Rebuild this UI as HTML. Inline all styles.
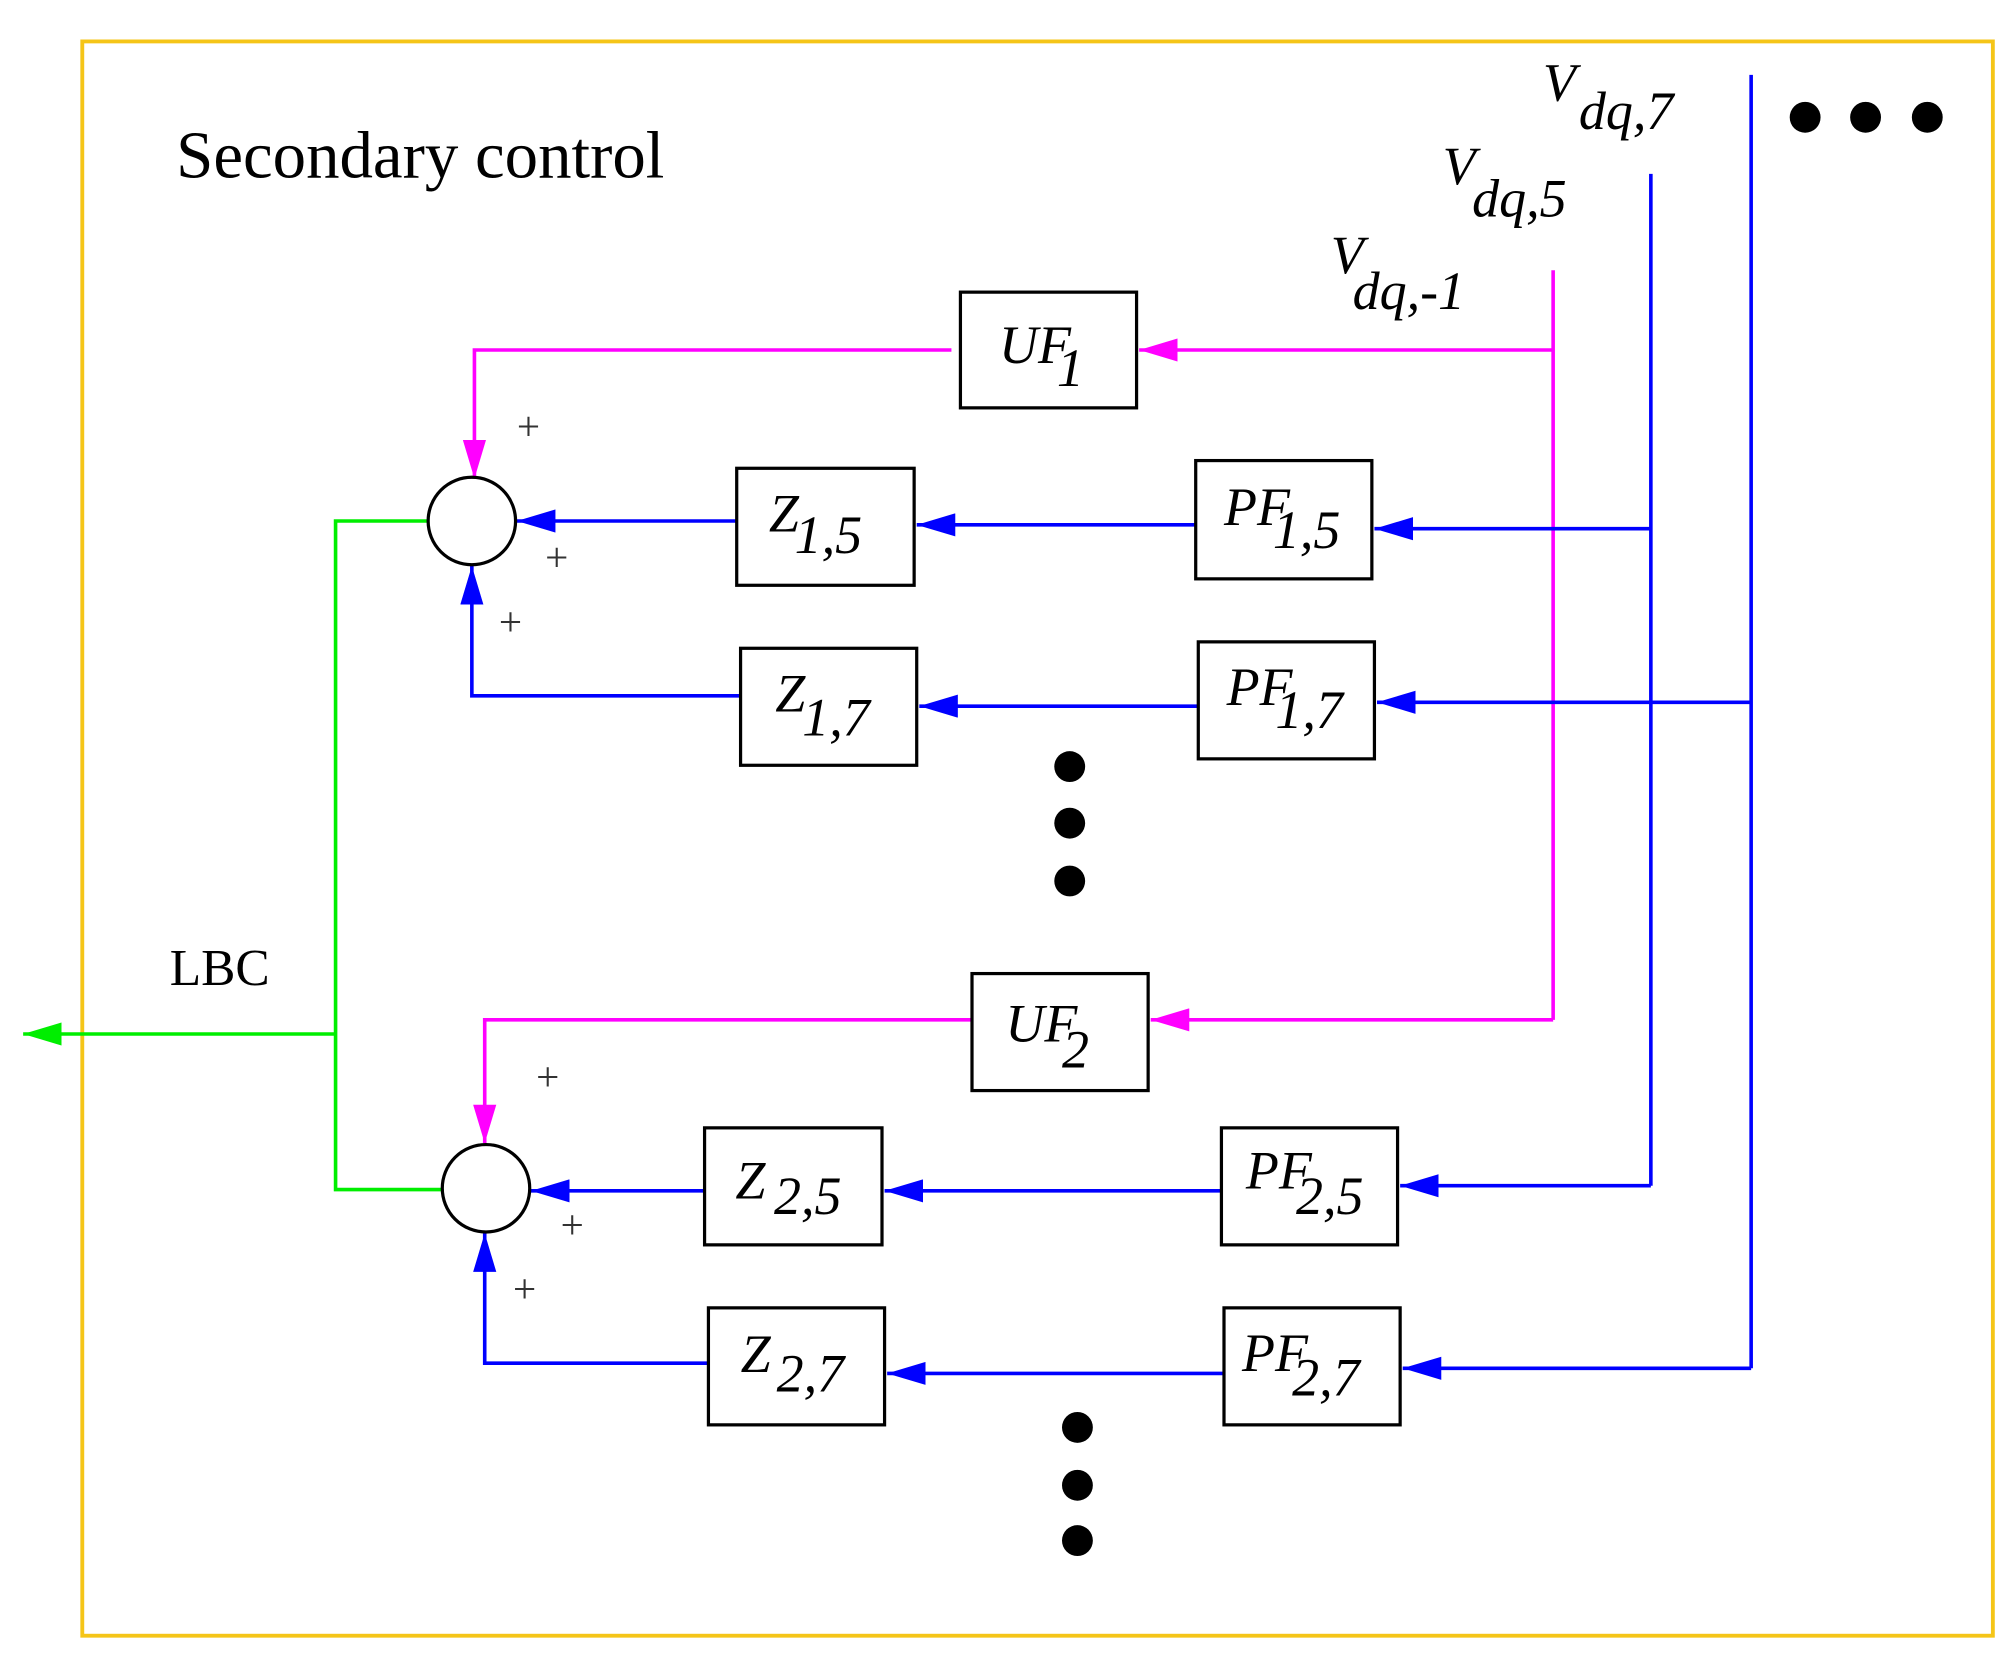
<!DOCTYPE html>
<html><head><style>html,body{margin:0;padding:0;background:#fff}svg{display:block}</style></head>
<body>
<svg width="2016" height="1663" viewBox="0 0 1568 1293" xmlns="http://www.w3.org/2000/svg" font-family="'Liberation Serif', serif">
<defs>
<marker id="ab" markerWidth="32" markerHeight="18" refX="30" refY="9" orient="auto" markerUnits="userSpaceOnUse"><path d="M30,9 L0,0 L0,18 Z" fill="#0000ff"/></marker>
<marker id="am" markerWidth="32" markerHeight="18" refX="30" refY="9" orient="auto" markerUnits="userSpaceOnUse"><path d="M30,9 L0,0 L0,18 Z" fill="#ff00ff"/></marker>
<marker id="ag" markerWidth="32" markerHeight="18" refX="30" refY="9" orient="auto" markerUnits="userSpaceOnUse"><path d="M30,9 L0,0 L0,18 Z" fill="#00ee00"/></marker>
</defs>
<rect x="64" y="32" width="1486" height="1240" fill="none" stroke="#f5c518" stroke-width="3"/>
<text x="137" y="138" font-size="52">Secondary control</text>
<g font-style="italic" font-size="42">
<text x="1200" y="78">V</text><text x="1228" y="100">dq,7</text>
<text x="1122" y="143">V</text><text x="1145" y="168">dq,5</text>
<text x="1035" y="212">V</text><text x="1052" y="240">dq,-1</text>
</g>
<g fill="#000"><circle cx="1404" cy="91" r="12"/><circle cx="1451" cy="91" r="12"/><circle cx="1499" cy="91" r="12"/>
<circle cx="832" cy="596" r="12"/><circle cx="832" cy="640" r="12"/><circle cx="832" cy="685" r="12"/>
<circle cx="838" cy="1110" r="12"/><circle cx="838" cy="1155" r="12"/><circle cx="838" cy="1198" r="12"/></g>
<g fill="none" stroke-width="2.8">
<path d="M1208 210 V793" stroke="#ff00ff"/>
<path d="M1284 135 V922" stroke="#0000ff"/>
<path d="M1362 58 V1064" stroke="#0000ff"/>
<path d="M1208 272 H886" stroke="#ff00ff" marker-end="url(#am)"/>
<path d="M740 272 H369 V372" stroke="#ff00ff" marker-end="url(#am)"/>
<path d="M1284 411 H1069" stroke="#0000ff" marker-end="url(#ab)"/>
<path d="M930 408 H713" stroke="#0000ff" marker-end="url(#ab)"/>
<path d="M573 405 H402" stroke="#0000ff" marker-end="url(#ab)"/>
<path d="M1362 546 H1071" stroke="#0000ff" marker-end="url(#ab)"/>
<path d="M932 549 H715" stroke="#0000ff" marker-end="url(#ab)"/>
<path d="M578 541 H367 V440" stroke="#0000ff" marker-end="url(#ab)"/>
<path d="M1208 793 H895" stroke="#ff00ff" marker-end="url(#am)"/>
<path d="M756 793 H377 V889" stroke="#ff00ff" marker-end="url(#am)"/>
<path d="M1284 922 H1089" stroke="#0000ff" marker-end="url(#ab)"/>
<path d="M950 926 H688" stroke="#0000ff" marker-end="url(#ab)"/>
<path d="M548 926 H413" stroke="#0000ff" marker-end="url(#ab)"/>
<path d="M1362 1064 H1091" stroke="#0000ff" marker-end="url(#ab)"/>
<path d="M952 1068 H690" stroke="#0000ff" marker-end="url(#ab)"/>
<path d="M551 1060 H377 V959" stroke="#0000ff" marker-end="url(#ab)"/>
<path d="M333 405 H261 V925 H344" stroke="#00ee00"/>
<path d="M261 804 H18" stroke="#00ee00" marker-end="url(#ag)"/>
</g>
<g fill="#fff" stroke="#000" stroke-width="2.5">
<circle cx="367" cy="405" r="34"/><circle cx="378" cy="924" r="34"/>
<rect x="747" y="227" width="137" height="90"/>
<rect x="573" y="364" width="138" height="91"/>
<rect x="930" y="358" width="137" height="92"/>
<rect x="576" y="504" width="137" height="91"/>
<rect x="932" y="499" width="137" height="91"/>
<rect x="756" y="757" width="137" height="91"/>
<rect x="548" y="877" width="138" height="91"/>
<rect x="950" y="877" width="137" height="91"/>
<rect x="551" y="1017" width="137" height="91"/>
<rect x="952" y="1017" width="137" height="91"/>
</g>
<g font-size="32" fill="#333">
<text x="402" y="342">+</text><text x="424" y="444">+</text><text x="388" y="494">+</text>
<text x="417" y="848">+</text><text x="436" y="963">+</text><text x="399" y="1013">+</text>
</g>
<text x="132" y="766" font-size="40">LBC</text>
<g font-style="italic" font-size="42">
<text x="777" y="282">UF</text><text x="822" y="300">1</text>
<text x="598" y="413">Z</text><text x="618" y="430">1,5</text>
<text x="952" y="408">PF</text><text x="990" y="426">1,5</text>
<text x="603" y="553">Z</text><text x="624" y="572">1,7</text>
<text x="954" y="548">PF</text><text x="992" y="566">1,7</text>
<text x="782" y="810">UF</text><text x="826" y="830">2</text>
<text x="572" y="932">Z</text><text x="602" y="944">2,5</text>
<text x="969" y="924">PF</text><text x="1008" y="944">2,5</text>
<text x="576" y="1067">Z</text><text x="604" y="1082">2,7</text>
<text x="966" y="1066">PF</text><text x="1005" y="1085">2,7</text>
</g>
</svg>
</body></html>
